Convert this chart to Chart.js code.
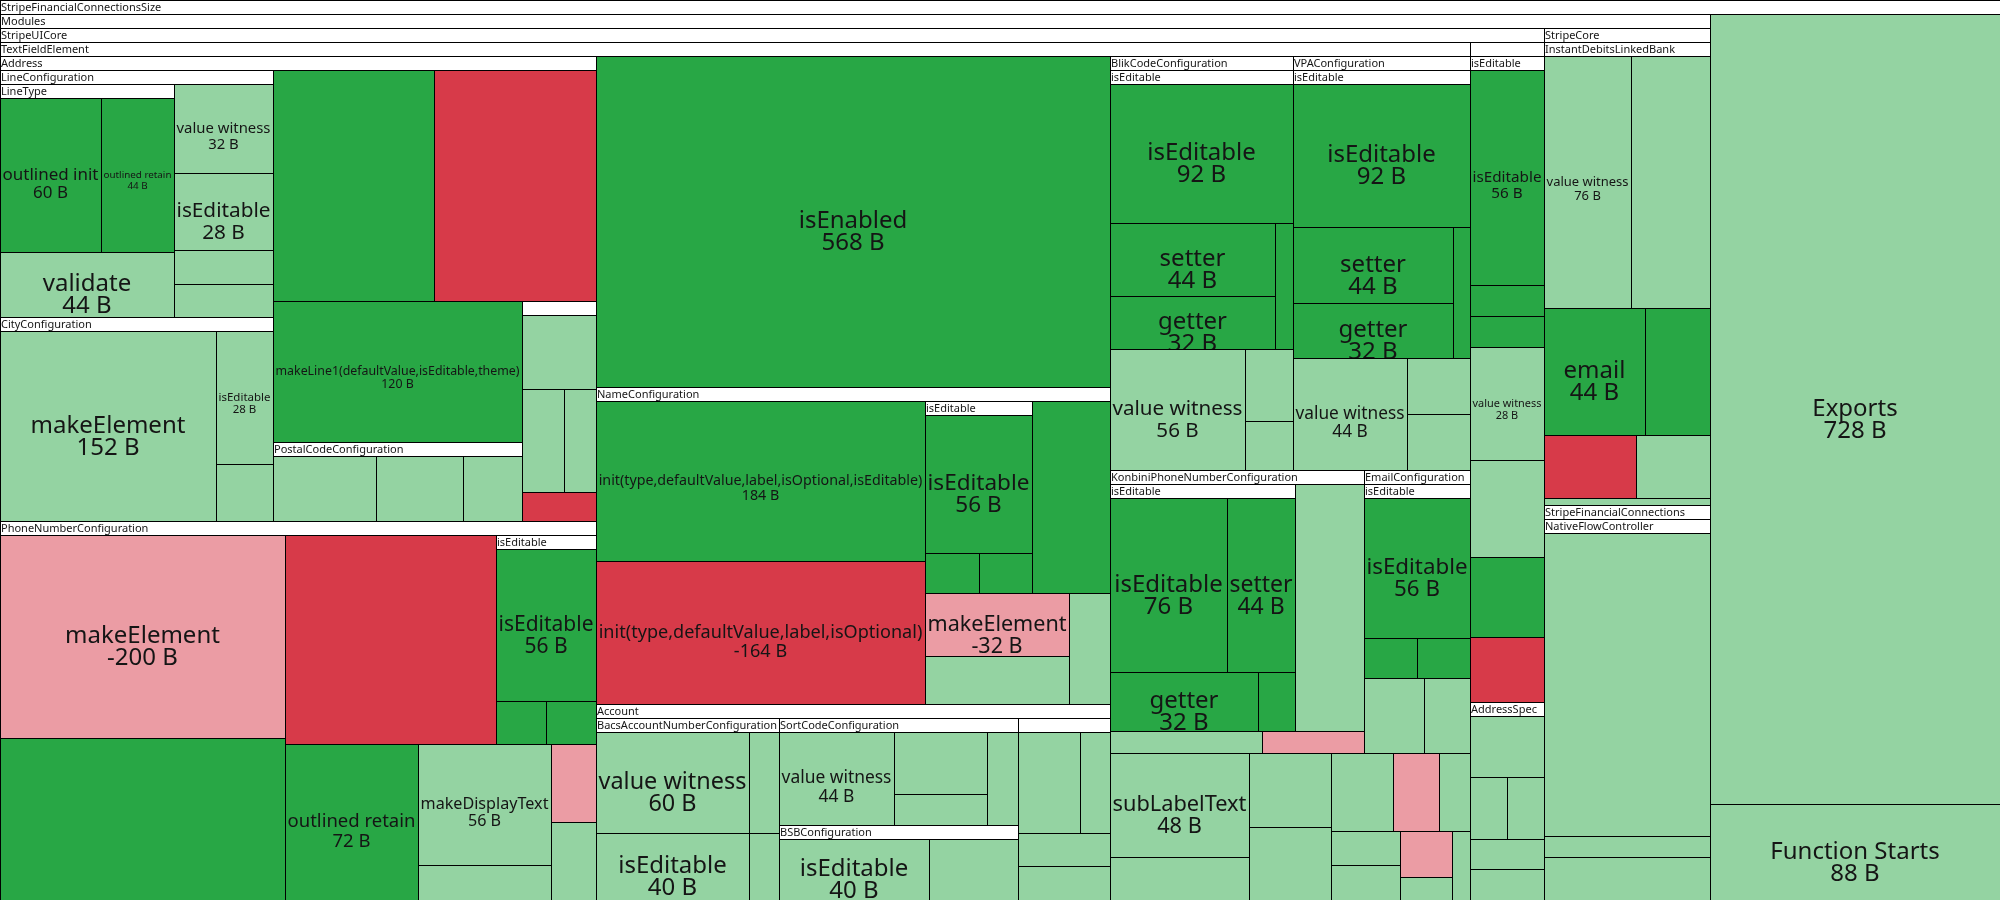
<!DOCTYPE html>
<html>
<head>
<meta charset="utf-8">
<title>StripeFinancialConnectionsSize</title>
<script src="https://cdn.jsdelivr.net/npm/chart.js@4.4.1/dist/chart.umd.min.js"></script>
<style>
  html, body { margin: 0; padding: 0; background: #fff; }
  #wrap { width: 2000px; height: 900px; }
</style>
</head>
<body>
<div id="wrap"><canvas id="sizeTreemap"></canvas></div>
<script>
// Groups of the size tree (index = id, parent = id of the enclosing group)
const groupNames = [
  'StripeFinancialConnectionsSize', 'Modules', 'StripeUICore', 'TextFieldElement',
  'Address', 'LineConfiguration', 'LineType', 'CityConfiguration', 'PostalCodeConfiguration', '',
  'PhoneNumberConfiguration', 'isEditable', 'NameConfiguration', 'isEditable',
  'Account', 'BacsAccountNumberConfiguration', 'SortCodeConfiguration', 'BSBConfiguration', '',
  'BlikCodeConfiguration', 'isEditable', 'VPAConfiguration', 'isEditable',
  'KonbiniPhoneNumberConfiguration', 'isEditable', 'EmailConfiguration', 'isEditable',
  '', 'isEditable', 'AddressSpec', 'StripeCore', 'InstantDebitsLinkedBank',
  'StripeFinancialConnections', 'NativeFlowController'
];
const groupParents = [
  -1, 0, 1, 2,
  3, 4, 5, 4, 4, 4,
  3, 10, 3, 12,
  3, 14, 14, 14, 14,
  3, 19, 3, 21,
  3, 23, 3, 25,
  2, 27, 2, 1, 30,
  1, 32
];

// Leaves: symbol name, group id, size change in bytes, whole symbol added/removed
const leafNames = [
  'Exports', 'Function Starts',
  'isEnabled', 'subLabelText', '', '', '', '', '', '', '', '', '', '', '',
  '', '', 'makeLine1(defaultValue,isEditable,theme)',
  'value witness', 'isEditable', '', '',
  'outlined init', 'outlined retain', 'validate',
  'makeElement', 'isEditable', '',
  '', '', '',
  '', '', '', '',
  'makeElement', '', '', 'outlined retain', 'makeDisplayText', '', '', '',
  'isEditable', '', '',
  'init(type,defaultValue,label,isOptional,isEditable)', 'init(type,defaultValue,label,isOptional)', '', 'makeElement', '', '',
  'isEditable', '', '',
  'value witness', 'isEditable', '', '',
  'value witness', '', '', '',
  'isEditable', '',
  '', '', '', '',
  'value witness', '', '',
  'isEditable', 'setter', 'getter', '',
  'value witness', '', '',
  'isEditable', 'setter', 'getter', '',
  '', '', '',
  'isEditable', 'setter', 'getter', '',
  '', '',
  'isEditable', '', '',
  'value witness', '', '', '',
  'isEditable', '', '',
  '', '', '', '', '',
  '',
  'value witness', '', 'email', '', '', '',
  '',
  '', ''
];
const leafGroups = [
  0, 0,
  3, 3, 3, 3, 3, 3, 3, 3, 3, 3, 3, 3, 3,
  4, 4, 4,
  5, 5, 5, 5,
  6, 6, 6,
  7, 7, 7,
  8, 8, 8,
  9, 9, 9, 9,
  10, 10, 10, 10, 10, 10, 10, 10,
  11, 11, 11,
  12, 12, 12, 12, 12, 12,
  13, 13, 13,
  15, 15, 15, 15,
  16, 16, 16, 16,
  17, 17,
  18, 18, 18, 18,
  19, 19, 19,
  20, 20, 20, 20,
  21, 21, 21,
  22, 22, 22, 22,
  23, 23, 23,
  24, 24, 24, 24,
  25, 25,
  26, 26, 26,
  27, 27, 27, 27,
  28, 28, 28,
  29, 29, 29, 29, 29,
  30,
  31, 31, 31, 31, 31, 31,
  32,
  33, 33
];
const leafSizes = [
  728, 88,
  568, 48, 20, 20, 20, 16, -12, 8, 8, 8, -8, 4, 4,
  128, -128, 120,
  32, 28, 12, 12,
  60, 44, 44,
  152, 28, 12,
  28, 24, 16,
  20, 16, 12, -8,
  -200, 160, -152, 72, 56, 16, -12, 12,
  56, 8, 8,
  184, -164, 52, -32, 24, 16,
  56, 8, 8,
  60, 40, 12, 8,
  44, 24, 12, 12,
  40, 24,
  24, 12, 12, 12,
  56, 12, 8,
  92, 44, 32, 8,
  44, 12, 12,
  92, 44, 32, 8,
  60, 12, -8,
  76, 44, 32, 8,
  16, 12,
  56, 8, 8,
  28, 24, 20, -16,
  56, 8, 8,
  16, 8, 8, 8, 8,
  4,
  76, 68, 44, 28, -20, 16,
  24,
  176, 12
];
const leafWhole = [
  false, false,
  true, false, false, false, false, false, false, false, false, false, false, false, false,
  true, true, true,
  false, false, false, false,
  true, true, false,
  false, false, false,
  false, false, false,
  false, false, false, true,
  false, true, true, true, false, false, false, false,
  true, true, true,
  true, true, true, false, false, false,
  true, true, true,
  false, false, false, false,
  false, false, false, false,
  false, false,
  false, false, false, false,
  false, false, false,
  true, true, true, true,
  false, false, false,
  true, true, true, true,
  false, false, false,
  true, true, true, true,
  false, false,
  true, true, true,
  false, false, true, true,
  true, true, true,
  false, false, false, false, false,
  false,
  false, false, true, true, true, false,
  false,
  false, false
];

const PLOT_W = 2000;
const PLOT_H = 900;
const HEADER = 14;
const SQUARE_RATIO = 1.61;
const FONT = '"Noto Sans", "Open Sans", sans-serif';

const cellColors = {
  added: '#28a745',
  increased: '#94d3a2',
  removed: '#d73a49',
  decreased: '#eb9ca4'
};

const buildTree = () => {
  const groups = groupNames.map((name, i) => ({ name, isGroup: true, children: [], value: 0, order: i }));
  groupParents.forEach((p, i) => { if (p >= 0) groups[p].children.push(groups[i]); });
  leafNames.forEach((name, i) => {
    groups[leafGroups[i]].children.push({
      name, isGroup: false, size: leafSizes[i], whole: leafWhole[i],
      value: Math.abs(leafSizes[i]), order: 100 + i
    });
  });
  const total = node => node.isGroup
    ? (node.value = node.children.reduce((acc, c) => acc + total(c), 0))
    : node.value;
  total(groups[0]);
  return groups[0];
};

// worst aspect of a row, squarified layout
const worst = (row, fixed) => {
  let areaMax = 0, areaMin = Infinity;
  row.forEach(n => { if (n.area) { areaMin = Math.min(areaMin, n.area); areaMax = Math.max(areaMax, n.area); } });
  const sq = row.area * row.area;
  const f = fixed * fixed * SQUARE_RATIO;
  return sq ? Math.max((f * areaMax) / sq, sq / (f * areaMin)) : Infinity;
};

const position = (row, fixed, rect, flush) => {
  const alongX = fixed === rect.w;
  let other = fixed ? row.area / fixed : 0;
  const room = alongX ? rect.h : rect.w;
  if (flush || other > room) other = room;
  let last = alongX ? rect.x : rect.y;
  const end = alongX ? rect.x + rect.w : rect.y + rect.h;
  row.forEach((node, i) => {
    const step = other ? node.area / other : 0;
    const remain = end - last;
    const len = (i === row.length - 1 || remain < step) ? remain : step;
    node.box = alongX
      ? { x: last, y: rect.y, w: len, h: other }
      : { x: rect.x, y: last, w: other, h: len };
    last += len;
  });
  if (alongX) { rect.y += other; rect.h -= other; }
  else { rect.x += other; rect.w -= other; }
};

const squarify = (node) => {
  if (!node.isGroup) return;
  const box = node.box;
  const inner = { x: box.x, y: box.y + HEADER, w: box.w, h: Math.max(box.h - HEADER, 0) };
  const kids = node.children.slice().sort((a, b) => (b.value - a.value) || (a.order - b.order));
  const area = inner.w * inner.h;
  kids.forEach(k => { k.area = node.value ? k.value / node.value * area : 0; });

  let fixed = Math.min(inner.w, inner.h);
  let best = Infinity;
  const row = [];
  row.area = 0;
  for (let i = 0; i < kids.length;) {
    row.push(kids[i]);
    row.area += kids[i].area;
    const score = worst(row, fixed);
    if (score <= best) { i++; best = score; }
    else {
      row.area -= row.pop().area;
      position(row, fixed, inner, false);
      fixed = Math.min(inner.w, inner.h);
      row.length = 0;
      row.area = 0;
      best = Infinity;
    }
  }
  if (row.length) position(row, fixed, inner, true);
  kids.forEach(squarify);
};

const leafColor = (n) => n.size >= 0
  ? (n.whole ? cellColors.added : cellColors.increased)
  : (n.whole ? cellColors.removed : cellColors.decreased);

const toPixels = (b, xs, ys) => {
  const x0 = Math.round(xs.getPixelForValue(b.x));
  const x1 = Math.round(xs.getPixelForValue(b.x + b.w));
  const y0 = Math.round(ys.getPixelForValue(b.y));
  const y1 = Math.round(ys.getPixelForValue(b.y + b.h));
  return { x: x0, y: y0, w: x1 - x0, h: y1 - y0 };
};

const drawLeafLabel = (ctx, node, r) => {
  if (!node.name) return;
  const valueText = `${node.size} B`;
  ctx.font = `100px ${FONT}`;
  const wide = Math.max(ctx.measureText(node.name).width, ctx.measureText(valueText).width) / 100;
  const fs = Math.min(24, (r.w - 5) / wide);
  if (fs < 9) return;
  const gap = Math.min(fs + 1, 22);
  ctx.save();
  ctx.beginPath();
  ctx.rect(r.x + 1, r.y + 1, r.w - 1, r.h - 1);
  ctx.clip();
  ctx.font = `${fs}px ${FONT}`;
  ctx.fillStyle = '#151515';
  ctx.textAlign = 'center';
  ctx.textBaseline = 'middle';
  const cx = r.x + r.w / 2;
  const cy = r.y + r.h / 2;
  ctx.fillText(node.name, cx, cy);
  ctx.fillText(valueText, cx, cy + gap);
  ctx.restore();
};

const strokeBox = (ctx, r) => {
  ctx.strokeStyle = '#000';
  ctx.lineWidth = 1;
  ctx.strokeRect(r.x + 0.5, r.y + 0.5, r.w, r.h);
};

const drawNode = (ctx, node, xs, ys) => {
  const r = toPixels(node.box, xs, ys);
  if (!node.isGroup) {
    ctx.fillStyle = leafColor(node);
    ctx.fillRect(r.x, r.y, r.w, r.h);
    strokeBox(ctx, r);
    drawLeafLabel(ctx, node, r);
    return;
  }
  node.children.forEach(c => drawNode(ctx, c, xs, ys));
  const hb = toPixels({ x: node.box.x, y: node.box.y, w: node.box.w, h: HEADER }, xs, ys);
  ctx.fillStyle = '#fff';
  ctx.fillRect(hb.x, hb.y, hb.w, hb.h);
  strokeBox(ctx, hb);
  strokeBox(ctx, r);
  if (node.name) {
    ctx.save();
    ctx.beginPath();
    ctx.rect(hb.x + 1, hb.y, hb.w - 1, hb.h);
    ctx.clip();
    ctx.font = `11px ${FONT}`;
    ctx.fillStyle = '#151515';
    ctx.textAlign = 'left';
    ctx.textBaseline = 'middle';
    ctx.fillText(node.name, hb.x + 1, hb.y + hb.h / 2 + 0.5);
    ctx.restore();
  }
};

const treemapPlugin = {
  id: 'treemapCells',
  afterDatasetsDraw(chart) {
    const { ctx } = chart;
    const xs = chart.scales.x;
    const ys = chart.scales.y;
    const root = buildTree();
    root.box = { x: xs.min, y: ys.min, w: xs.max - xs.min, h: ys.max - ys.min };
    squarify(root);
    ctx.save();
    drawNode(ctx, root, xs, ys);
    ctx.restore();
  }
};

new Chart(document.getElementById('sizeTreemap'), {
  type: 'scatter',
  data: { datasets: [{ data: [], pointRadius: 0 }] },
  options: {
    responsive: true,
    maintainAspectRatio: false,
    animation: false,
    layout: { padding: 0 },
    plugins: { legend: { display: false }, tooltip: { enabled: false } },
    scales: {
      x: { type: 'linear', min: 0, max: PLOT_W, display: false },
      y: { type: 'linear', min: 0, max: PLOT_H, reverse: true, display: false }
    }
  },
  plugins: [treemapPlugin]
});
</script>
</body>
</html>
